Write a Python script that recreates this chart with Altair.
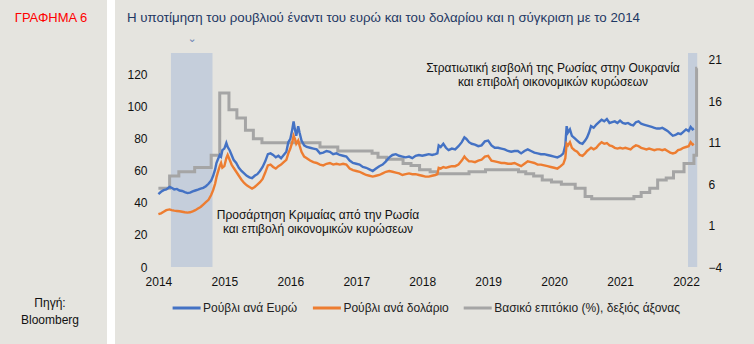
import altair as alt
import pandas as pd

FONT = "Liberation Sans"

SERIES = ["Ρούβλι ανά Ευρώ", "Ρούβλι ανά δολάριο", "Βασικό επιτόκιο (%), δεξιός άξονας"]
COLORS = ["#4472C4", "#ED7D31", "#A5A5A5"]

# decimal-year time stamps for the two exchange-rate series
FX_T = [
    2014.00, 2014.04, 2014.08, 2014.12, 2014.17, 2014.20, 2014.24, 2014.28, 2014.32, 2014.36,
    2014.40, 2014.44, 2014.48, 2014.52, 2014.56, 2014.60, 2014.64, 2014.68, 2014.72, 2014.76,
    2014.80, 2014.83, 2014.86, 2014.88, 2014.90, 2014.93, 2014.95, 2014.97,
    2015.00, 2015.03, 2015.05, 2015.08, 2015.11, 2015.14, 2015.18, 2015.22, 2015.26, 2015.30,
    2015.34, 2015.38, 2015.42, 2015.46, 2015.50, 2015.54, 2015.58, 2015.62, 2015.66, 2015.70,
    2015.74, 2015.78, 2015.82, 2015.86, 2015.90, 2015.94, 2015.97,
    2016.00, 2016.03, 2016.05, 2016.07, 2016.09, 2016.12, 2016.14, 2016.17, 2016.21, 2016.25,
    2016.30, 2016.35, 2016.40, 2016.45, 2016.50, 2016.55, 2016.60, 2016.65, 2016.70, 2016.75,
    2016.80, 2016.85, 2016.90, 2016.95,
    2017.00, 2017.05, 2017.10, 2017.15, 2017.20, 2017.25, 2017.30, 2017.35, 2017.40, 2017.45,
    2017.50, 2017.55, 2017.60, 2017.65, 2017.70, 2017.75, 2017.80, 2017.85, 2017.90, 2017.95,
    2018.00, 2018.05, 2018.10, 2018.15, 2018.20, 2018.23, 2018.25, 2018.28, 2018.32, 2018.36,
    2018.40, 2018.45, 2018.50, 2018.55, 2018.60, 2018.64, 2018.67, 2018.71, 2018.75, 2018.80,
    2018.85, 2018.90, 2018.95,
    2019.00, 2019.05, 2019.10, 2019.15, 2019.20, 2019.25, 2019.30, 2019.35, 2019.40, 2019.45,
    2019.50, 2019.55, 2019.60, 2019.65, 2019.70, 2019.75, 2019.80, 2019.85, 2019.90, 2019.95,
    2020.00, 2020.05, 2020.10, 2020.14, 2020.17, 2020.19, 2020.21, 2020.24, 2020.27, 2020.31,
    2020.35, 2020.39, 2020.43, 2020.47, 2020.50, 2020.53, 2020.56, 2020.60, 2020.64, 2020.68,
    2020.72, 2020.76, 2020.80, 2020.84, 2020.88, 2020.92, 2020.96,
    2021.00, 2021.04, 2021.08, 2021.12, 2021.16, 2021.20, 2021.24, 2021.28, 2021.32, 2021.36,
    2021.40, 2021.44, 2021.48, 2021.52, 2021.56, 2021.60, 2021.64, 2021.68, 2021.72, 2021.76,
    2021.80, 2021.84, 2021.88, 2021.92, 2021.96,
    2022.00, 2022.04, 2022.07, 2022.10, 2022.12,
]

RUB_PER_EUR = [
    45.5, 47, 48, 48.5, 50, 49.5, 48.5, 48.8, 47.8, 47.5,
    46.8, 46.2, 46.5, 47.2, 47.8, 48.3, 49, 49.5, 50.5, 52,
    54, 57, 61, 65, 67, 70, 69, 73,
    74, 77.5, 75, 73, 70, 67, 65, 62, 60, 58.5,
    57, 56, 55.5, 57, 58, 60, 62.5, 66, 70.5, 71,
    70, 68.5, 69.5, 68, 70, 72, 78,
    80, 86, 91, 86, 82, 88, 84, 79, 76, 75,
    74.5, 74, 73.5, 71, 71.5, 72.5, 72, 70.5, 71, 70,
    69.5, 69, 66.5, 65,
    64.5, 64, 62.5, 62, 61, 60, 61.5, 63, 64, 66,
    68.5, 70, 70.5, 69.5, 69, 68.5, 69, 68, 69.5, 70,
    69.5, 70, 70.5, 70, 70.5, 71, 76, 75, 77, 74.5,
    73, 74, 73.5, 75.5, 78, 81, 80, 78, 77, 76.5,
    75.5, 76, 78.5,
    79, 76, 74.5, 74.5, 74, 73.5, 72.5, 72, 72.5, 72.5,
    71, 72.5, 73.5, 72.5, 71.5, 71, 70.5, 70.5, 70, 69.5,
    69, 68.5, 69.5, 71, 76, 88, 84, 86, 82, 80.5,
    79, 77.5, 77, 79, 81, 84, 88, 87, 89, 90.5,
    92, 91, 92.5, 90, 90.5, 91, 90,
    91.5, 90, 89.5, 90, 89, 88.5, 90.5, 91, 89.5, 89,
    88.5, 88, 87.5, 87, 86.5, 86.5, 87, 86, 85, 83.5,
    82, 82.5, 83.5, 83, 84.5,
    86, 85, 87.5, 86, 86.5,
]

RUB_PER_USD = [
    33, 33.5, 34.5, 35.5, 36, 35.5, 35.2, 35, 34.8, 34.5,
    34.2, 34, 34.2, 34.8, 35.5, 36.5, 37.5, 39, 40.5, 42,
    45, 48, 52, 56, 59, 63, 65, 62,
    63, 68, 70, 67, 64, 62, 59.5, 57, 54.5, 52.5,
    51, 50, 49, 50, 51.5, 53, 55, 59, 63.5, 64,
    62.5, 61.5, 63, 64, 65.5, 67, 71,
    74, 78, 82, 80, 77, 79, 76, 72, 69, 68,
    66.5, 65.5, 65, 64, 63.5, 64.5, 65, 64, 64.5, 64,
    64.5, 64, 61.5, 60.5,
    60, 59.5, 58.5, 57.5, 57, 56.5, 57, 57.5, 58.5, 59.5,
    60, 59.5, 59, 58.5, 57.5, 58, 58.5, 58, 58, 57.5,
    57, 56.5, 56.5, 57, 57.5, 58, 62, 61.5, 62.5, 62,
    62.5, 63, 63, 64, 66.5, 69, 67.5, 66, 66, 65.5,
    66.5, 67, 69,
    69.5, 66.5, 66, 65.5, 65, 65, 64.5, 64.5, 65, 64,
    63, 64.5, 66, 65.5, 65, 64, 64, 63.5, 63, 62.5,
    62, 61.5, 63, 64.5, 68, 77, 76, 78, 74.5, 73,
    72, 70, 69.5, 71, 72.5, 73.5, 74.5, 73.5, 74.5, 76.5,
    78, 77, 77.5, 76, 75.5, 74.5, 74,
    74.5, 74, 74.5, 74, 73.5, 75, 76, 75.5, 74.5, 74,
    73.5, 74, 73.5, 73, 73.5, 73.5, 73, 73.5, 72.5, 71.5,
    71, 71.5, 73, 73.5, 74.5,
    75, 75.5, 78, 76.5, 77,
]

# key rate (%), step changes
RATE_T = [
    2014.00, 2014.17, 2014.31, 2014.55, 2014.80, 2014.93, 2015.07, 2015.19, 2015.32, 2015.44,
    2015.57, 2016.45, 2016.72, 2017.24, 2017.33, 2017.46, 2017.71, 2017.83, 2017.96, 2018.12,
    2018.23, 2018.71, 2018.96, 2019.46, 2019.57, 2019.69, 2019.82, 2019.96, 2020.11, 2020.32,
    2020.47, 2020.57, 2021.21, 2021.32, 2021.45, 2021.57, 2021.70, 2021.81, 2021.97, 2022.12,
    2022.16, 2022.17,
]
RATE_V = [
    5.5, 7.0, 7.5, 8.0, 9.5, 17, 15, 14, 12.5, 11.5,
    11, 10.5, 10, 9.75, 9.25, 9, 8.5, 8.25, 7.75, 7.5,
    7.25, 7.5, 7.75, 7.5, 7.25, 7, 6.5, 6.25, 6, 5.5,
    4.5, 4.25, 4.5, 5, 5.5, 6.5, 6.75, 7.5, 8.5, 9.5,
    20, 20,
]

BAND_START = [2014.19, 2022.03]
BAND_END = [2014.82, 2022.17]

YEAR_TICKS = [2014, 2015, 2016, 2017, 2018, 2019, 2020, 2021, 2022]
LEFT_TICKS = [0, 20, 40, 60, 80, 100, 120]
RIGHT_TICKS = [-4, 1, 6, 11, 16, 21]

TITLE = "Η υποτίμηση του ρουβλιού έναντι του ευρώ και του δολαρίου και η σύγκριση με το 2014"
CHART_NO = "ΓΡΑΦΗΜΑ 6"
SOURCE = ["Πηγή:", "Bloomberg"]
NOTE_CRIMEA = ["Προσάρτηση Κριμαίας από την Ρωσία", "και επιβολή οικονομικών κυρώσεων"]
NOTE_UKRAINE = ["Στρατιωτική εισβολή της Ρωσίας στην Ουκρανία", "και επιβολή οικονομικών κυρώσεων"]

assert len(FX_T) == len(RUB_PER_EUR) == len(RUB_PER_USD)

fx = pd.DataFrame({
    "t": FX_T + FX_T,
    "v": RUB_PER_EUR + RUB_PER_USD,
    "series": [SERIES[0]] * len(FX_T) + [SERIES[1]] * len(FX_T),
})
rate = pd.DataFrame({"t": RATE_T, "v": RATE_V, "series": SERIES[2]})
bands = pd.DataFrame({"start": BAND_START, "end": BAND_END})
one = pd.DataFrame({"a": [0]})

W, H = 545, 213
x_scale = alt.Scale(domain=[2013.9485, 2022.2121], nice=False, zero=False)
x_axis = alt.Axis(values=YEAR_TICKS, format="d", title=None, labelPadding=9,
                  labelFontSize=12, labelFont=FONT, labelColor="#111",
                  domain=False, ticks=False, grid=False, labelFlush=False, labelOverlap=False)

color = alt.Color("series:N", scale=alt.Scale(domain=SERIES, range=COLORS), legend=None)

band_layer = alt.Chart(bands).mark_rect(color="#C5CEDB").encode(
    x=alt.X("start:Q", scale=x_scale, axis=x_axis),
    x2="end:Q",
    y=alt.value(-1),
    y2=alt.value(H),
)

rate_layer = alt.Chart(rate).mark_line(strokeWidth=3, interpolate="step-after").encode(
    x=alt.X("t:Q", scale=x_scale, axis=x_axis),
    y=alt.Y("v:Q", scale=alt.Scale(domain=[-4, 21.72], nice=False, zero=False),
            axis=alt.Axis(orient="right", values=RIGHT_TICKS, title=None, labelPadding=8,
                          labelFontSize=12, labelFont=FONT, labelColor="#111",
                          domain=False, ticks=False, grid=False)),
    color=color,
)

fx_layer = alt.Chart(fx).mark_line(strokeWidth=2.4).encode(
    x=alt.X("t:Q", scale=x_scale, axis=x_axis),
    y=alt.Y("v:Q", scale=alt.Scale(domain=[0, 133.1], nice=False),
            axis=alt.Axis(orient="left", values=LEFT_TICKS, title=None, labelPadding=8,
                          labelFontSize=12, labelFont=FONT, labelColor="#111",
                          domain=False, ticks=False, grid=False)),
    color=color,
)

def txt(text, x, y, size=12, color="#111", align="center", font=FONT, line_height=14):
    return alt.Chart(one).mark_text(
        align=align, baseline="middle", fontSize=size, font=font, color=color,
        lineHeight=line_height,
    ).encode(x=alt.value(x), y=alt.value(y), text=alt.value(text))

separator = alt.Chart(one).mark_rect(color="#FFFFFF").encode(
    x=alt.value(-48), x2=alt.value(-40), y=alt.value(-54), y2=alt.value(H + 77)
)

# hand-placed legend (pixel offsets from the plot origin)
LEG_Y = 254
LEG_SYMBOL_X = [17.6, 157.9, 308.7]
legend_layers = []
for name, col, lx in zip(SERIES, COLORS, LEG_SYMBOL_X):
    legend_layers.append(
        alt.Chart(one).mark_rule(strokeWidth=3, color=col).encode(
            x=alt.value(lx), x2=alt.value(lx + 28), y=alt.value(LEG_Y)
        )
    )
    legend_layers.append(txt(name, lx + 30.5, LEG_Y, align="left", color="#222"))

layers = [
    separator,
    band_layer,
    rate_layer,
    fx_layer,
    txt(NOTE_CRIMEA, 163, 161),
    txt(NOTE_UKRAINE, 398, 14),
    txt(TITLE, -28, -36, size=13.3, color="#1F3864", align="left"),
    txt(CHART_NO, -104, -36, size=13, color="#FF0000"),
    txt(SOURCE, -105, 249, size=12, color="#111", line_height=17),
    txt("⌄", 37, -15, size=11, color="#6F86B5", font="DejaVu Sans"),
] + legend_layers

chart = alt.layer(*layers).resolve_scale(y="independent").properties(
    width=W, height=H,
    padding={"left": 155, "top": 54, "right": 54, "bottom": 77},
    autosize=alt.AutoSizeParams(type="none"),
).configure(background="#E5E4DF").configure_view(stroke=None)

chart.save("out.html", embed_options={"renderer": "svg", "actions": False})
